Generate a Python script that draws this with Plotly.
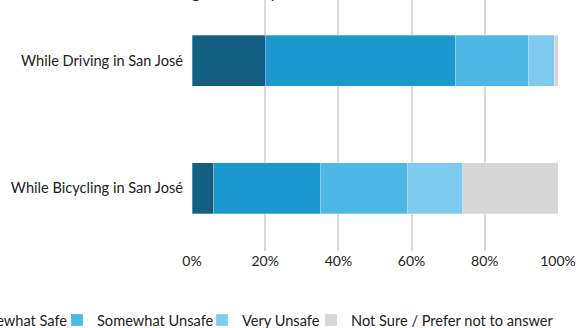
import plotly.graph_objects as go

categories = ["While Driving in San José", "While Bicycling in San José"]
series_names = ["Very Safe", "Somewhat Safe", "Somewhat Unsafe", "Very Unsafe",
                "Not Sure / Prefer not to answer"]
very_safe = [0.20, 0.06]
somewhat_safe = [0.52, 0.29]
somewhat_unsafe = [0.20, 0.24]
very_unsafe = [0.07, 0.15]
not_sure = [0.01, 0.26]
tick_vals = [0, 0.2, 0.4, 0.6, 0.8, 1.0]
tick_text = ["0%", "20%", "40%", "60%", "80%", "100%"]
title_text = "Feelings of Safety"

series_values = [very_safe, somewhat_safe, somewhat_unsafe, very_unsafe, not_sure]
colors = ["#125F82", "#1B98CD", "#4DB8E6", "#7ECBEF", "#D6D6D6"]

W, H = 576, 328
ml, mr, mt, mb = 192, 18, 0, 77
pw = W - ml - mr
ph = H - mt - mb

def px_to_paper_x(px):
    return (px - ml) / pw

def px_to_paper_y(py):
    return (H - mb - py) / ph

# legend left positions (pixels) for each entry
legend_left_px = [-184, -72, 57, 202, 311]
legend_ids = ["legend", "legend2", "legend3", "legend4", "legend5"]

fig = go.Figure()
for name, vals, col, lid in zip(series_names, series_values, colors, legend_ids):
    fig.add_trace(go.Bar(
        y=categories, x=vals, name=name, orientation="h",
        marker=dict(color=col, line=dict(color="rgba(255,255,255,0.6)", width=0.5)),
        width=0.4, legend=lid, hoverinfo="skip",
    ))

font_family = "Lato, 'Open Sans', sans-serif"
fs = 14.6
legend_common = dict(orientation="h", yanchor="middle", xanchor="left",
                     font=dict(family=font_family, size=fs, color="#222222"),
                     bgcolor="rgba(0,0,0,0)", borderwidth=0,
                     itemwidth=30, tracegroupgap=0)
layout_legends = {}
for lid, lpx in zip(legend_ids, legend_left_px):
    d = dict(legend_common)
    d.update(x=px_to_paper_x(lpx), y=px_to_paper_y(320))
    layout_legends[lid] = d

fig.update_layout(
    width=W, height=H,
    margin=dict(l=ml, r=mr, t=mt, b=mb, autoexpand=False),
    barmode="stack",
    plot_bgcolor="white", paper_bgcolor="white",
    font=dict(family=font_family, size=fs, color="#222222"),
    showlegend=True,
    **layout_legends,
)
fig.update_xaxes(range=[0, 1], tickvals=tick_vals, ticktext=tick_text,
                 showgrid=True, gridcolor="#D9D9D9", gridwidth=2,
                 zeroline=False, showline=False, ticks="",
                 tickfont=dict(family=font_family, size=14, color="#222222"))
fig.update_yaxes(range=[1.494, -0.4745], showgrid=False, zeroline=False,
                 showline=False, ticks="", ticklabelstandoff=8,
                 tickfont=dict(family=font_family, size=fs, color="#222222"))

fig.add_annotation(text=title_text, xref="paper", yref="paper",
                   x=px_to_paper_x(145), y=1, xanchor="left", yanchor="bottom",
                   yshift=-4, showarrow=False,
                   font=dict(family=font_family, size=17, color="#222222"))

fig.write_html("out.html")
